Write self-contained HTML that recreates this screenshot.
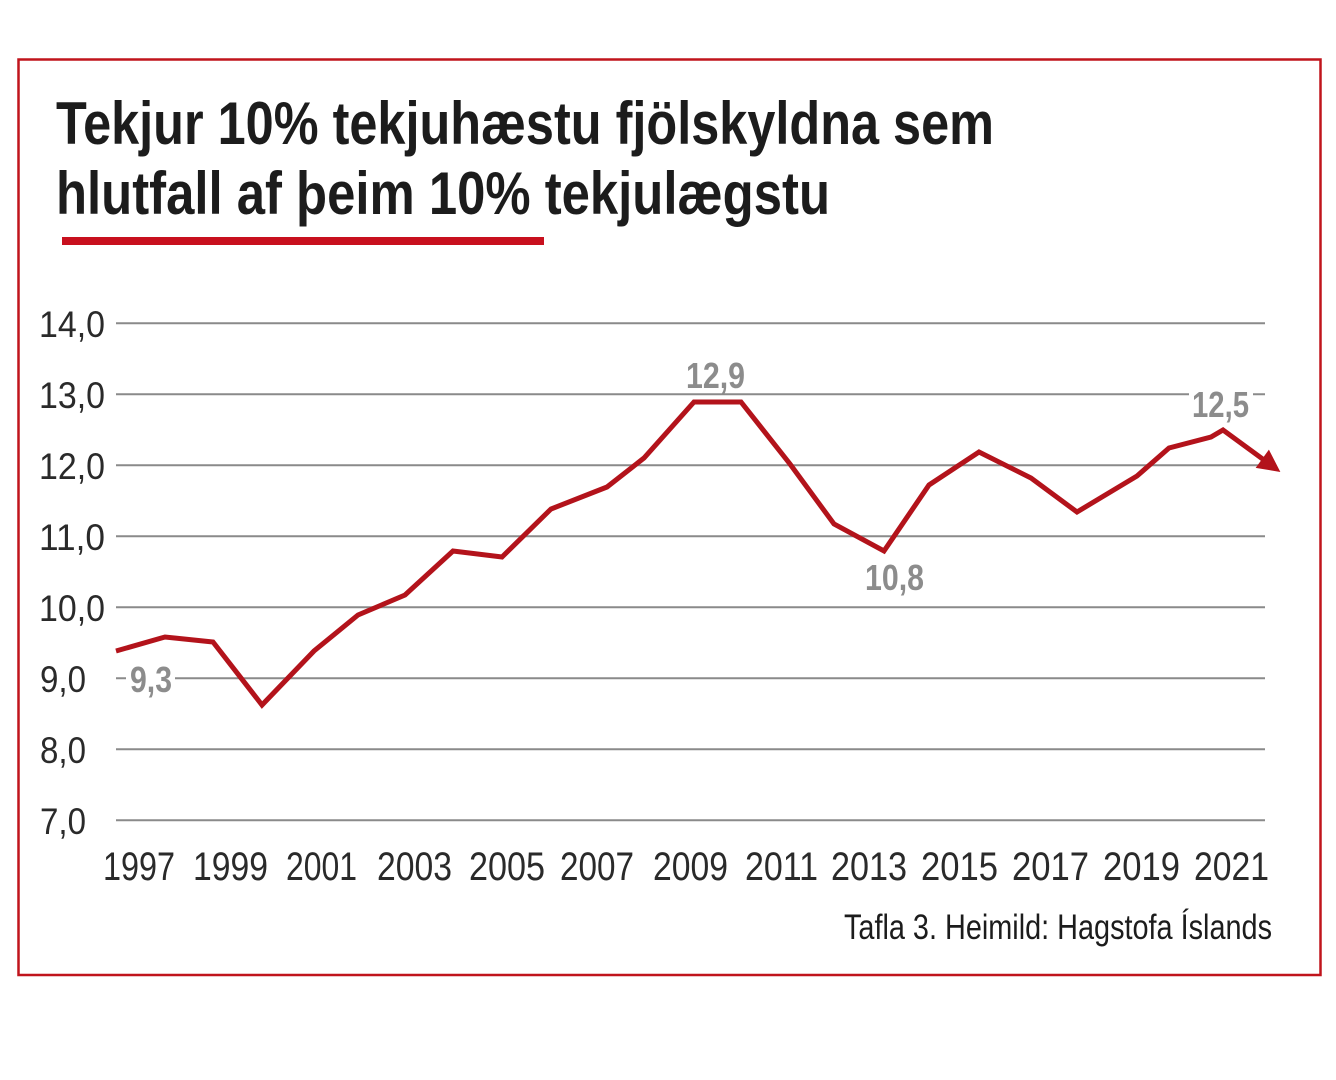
<!DOCTYPE html>
<html>
<head>
<meta charset="utf-8">
<style>
  html, body { margin:0; padding:0; background:#ffffff; }
  body { width:1336px; height:1080px; overflow:hidden; }
  svg { display:block; }
</style>
</head>
<body>
<svg width="1336" height="1080" viewBox="0 0 1336 1080" xmlns="http://www.w3.org/2000/svg">
  <rect x="0" y="0" width="1336" height="1080" fill="#ffffff"/>
  <!-- frame -->
  <rect x="18.5" y="59.5" width="1302" height="915.5" fill="none" stroke="#c0141c" stroke-width="2.5"/>

  <!-- title -->
  <g font-family="'Liberation Sans', 'DejaVu Sans', sans-serif" font-weight="bold" fill="#1c1c1c" font-size="60">
    <text x="56" y="144" textLength="938" lengthAdjust="spacingAndGlyphs">Tekjur 10% tekjuhæstu fjölskyldna sem</text>
    <text x="56" y="214" textLength="774" lengthAdjust="spacingAndGlyphs">hlutfall af þeim 10% tekjulægstu</text>
  </g>
  <rect x="62" y="237" width="482" height="8" fill="#c8101e"/>

  <!-- gridlines -->
  <g stroke="#8a8a8a" stroke-width="2">
    <line x1="116" y1="323.3" x2="1265" y2="323.3"/>
    <line x1="116" y1="394.3" x2="1265" y2="394.3"/>
    <line x1="116" y1="465.3" x2="1265" y2="465.3"/>
    <line x1="116" y1="536.3" x2="1265" y2="536.3"/>
    <line x1="116" y1="607.3" x2="1265" y2="607.3"/>
    <line x1="116" y1="678.3" x2="1265" y2="678.3"/>
    <line x1="116" y1="749.3" x2="1265" y2="749.3"/>
    <line x1="116" y1="820.3" x2="1265" y2="820.3"/>
  </g>

  <!-- y labels -->
  <g font-family="'Liberation Sans', sans-serif" fill="#2a2a2a" font-size="37">
    <text x="39" y="337" textLength="66" lengthAdjust="spacingAndGlyphs">14,0</text>
    <text x="39" y="408" textLength="66" lengthAdjust="spacingAndGlyphs">13,0</text>
    <text x="39" y="479" textLength="66" lengthAdjust="spacingAndGlyphs">12,0</text>
    <text x="39" y="550" textLength="66" lengthAdjust="spacingAndGlyphs">11,0</text>
    <text x="39" y="621" textLength="66" lengthAdjust="spacingAndGlyphs">10,0</text>
    <text x="40" y="692" textLength="46" lengthAdjust="spacingAndGlyphs">9,0</text>
    <text x="40" y="763" textLength="46" lengthAdjust="spacingAndGlyphs">8,0</text>
    <text x="40" y="834" textLength="46" lengthAdjust="spacingAndGlyphs">7,0</text>
  </g>

  <!-- x labels -->
  <g font-family="'Liberation Sans', sans-serif" fill="#2a2a2a" font-size="40">
    <text x="103" y="880" textLength="72" lengthAdjust="spacingAndGlyphs">1997</text>
    <text x="193" y="880" textLength="75" lengthAdjust="spacingAndGlyphs">1999</text>
    <text x="286" y="880" textLength="71" lengthAdjust="spacingAndGlyphs">2001</text>
    <text x="377" y="880" textLength="75" lengthAdjust="spacingAndGlyphs">2003</text>
    <text x="469" y="880" textLength="76" lengthAdjust="spacingAndGlyphs">2005</text>
    <text x="560" y="880" textLength="74" lengthAdjust="spacingAndGlyphs">2007</text>
    <text x="653" y="880" textLength="75" lengthAdjust="spacingAndGlyphs">2009</text>
    <text x="745" y="880" textLength="73" lengthAdjust="spacingAndGlyphs">2011</text>
    <text x="831" y="880" textLength="76" lengthAdjust="spacingAndGlyphs">2013</text>
    <text x="921" y="880" textLength="77" lengthAdjust="spacingAndGlyphs">2015</text>
    <text x="1012" y="880" textLength="77" lengthAdjust="spacingAndGlyphs">2017</text>
    <text x="1103" y="880" textLength="77" lengthAdjust="spacingAndGlyphs">2019</text>
    <text x="1194" y="880" textLength="75" lengthAdjust="spacingAndGlyphs">2021</text>
  </g>

  <!-- footer -->
  <text x="844" y="939" font-family="'Liberation Sans', sans-serif" font-size="35" fill="#1c1c1c" textLength="428" lengthAdjust="spacingAndGlyphs">Tafla 3. Heimild: Hagstofa Íslands</text>

  <!-- label backgrounds -->
  <rect x="126" y="664" width="49" height="32" fill="#ffffff"/>
  <rect x="1189" y="388" width="64" height="32" fill="#ffffff"/>

  <!-- data line -->
  <polyline fill="none" stroke="#b3131b" stroke-width="5" stroke-linejoin="miter" stroke-miterlimit="4"
    points="116,651 165,637 213,642 262,705 314,651 358,615 405,595 453,551 502,557 551,509 607,487 644,458 694,402 741,402 790,464 834,524 884,551 929,485 979,452 1031,478 1077,512 1137,476 1169,448 1211,437 1223,430 1264,460"/>
  <polygon points="1279,471 1268.8,451.1 1257,467.3" fill="#b3131b" stroke="#b3131b" stroke-width="1.5" stroke-linejoin="miter"/>

  <!-- value labels -->
  <g font-family="'Liberation Sans', sans-serif" font-weight="bold" fill="#8c8c8c" font-size="36">
    <text x="130" y="692" textLength="42" lengthAdjust="spacingAndGlyphs">9,3</text>
    <text x="686" y="388" textLength="59" lengthAdjust="spacingAndGlyphs">12,9</text>
    <text x="865" y="590" textLength="59" lengthAdjust="spacingAndGlyphs">10,8</text>
    <text x="1192" y="417" textLength="57" lengthAdjust="spacingAndGlyphs">12,5</text>
  </g>
</svg>
</body>
</html>
